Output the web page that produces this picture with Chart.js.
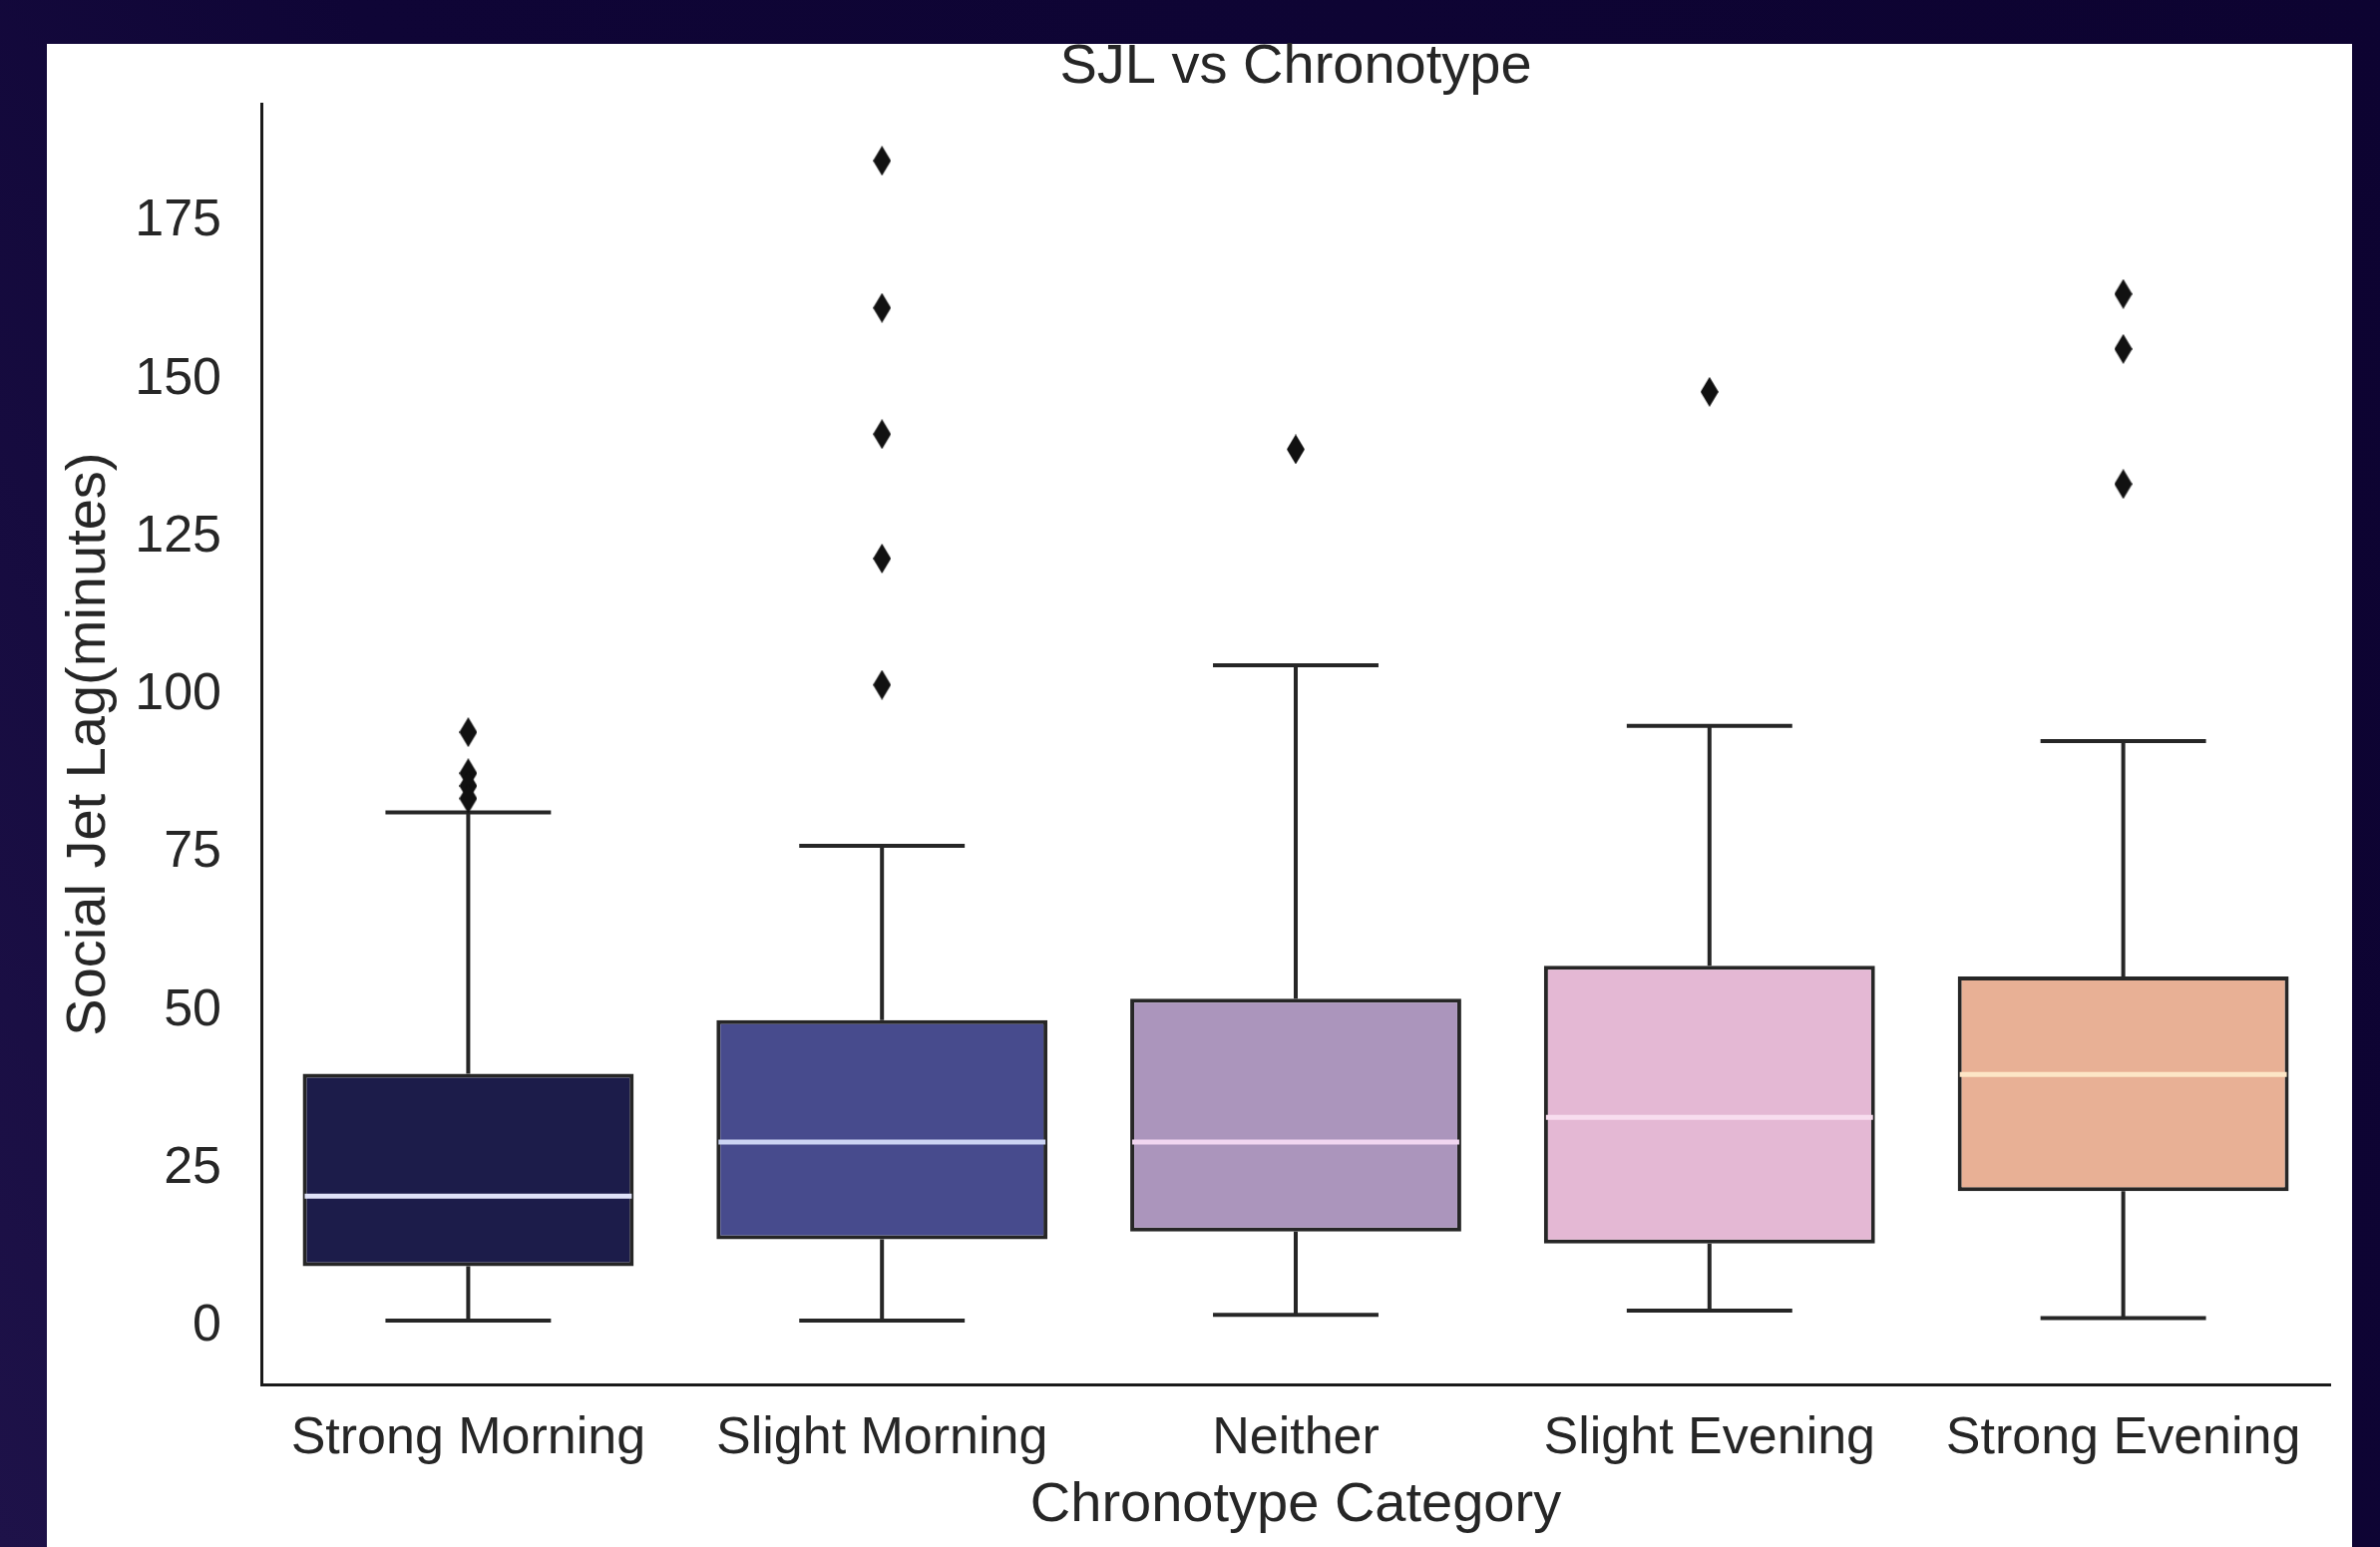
<!DOCTYPE html>
<html>
<head>
<meta charset="utf-8">
<title>SJL vs Chronotype</title>
<script src="https://cdn.jsdelivr.net/npm/chart.js@4.4.1/dist/chart.umd.min.js"></script>
<style>
  html, body { margin: 0; padding: 0; background: #0e0433; overflow: hidden; }
  #grafico { display: block; }
</style>
</head>
<body>
<canvas id="grafico" width="2386" height="1551"></canvas>
<script>
// dados (minutos)
const categorias = ["Strong Morning", "Slight Morning", "Neither", "Slight Evening", "Strong Evening"]
const bigodeInferior = [0.9, 0.9, 1.8, 2.5, 1.3]
const quartil1 = [9.5, 13.8, 15.0, 13.1, 21.4]
const mediana = [20.6, 29.2, 29.2, 33.1, 39.9]
const quartil3 = [40.0, 48.5, 51.9, 57.1, 55.4]
const bigodeSuperior = [81.4, 76.1, 104.7, 95.1, 92.7]
const outliers = [
  [94.1, 87.6, 85.6, 83.6],
  [101.6, 121.6, 141.3, 161.3, 184.6],
  [138.9],
  [148.0],
  [163.5, 154.8, 133.4],
]
const ticksY = [0, 25, 50, 75, 100, 125, 150, 175]
const limiteY = [-9.2, 193.6]

const coresCaixa = ["#1c1c4a", "#474b8d", "#ab95bc", "#e4b8d4", "#e8b095"]
const coresMediana = ["#dfe2f8", "#cbd4f3", "#f1d6f0", "#f8ddef", "#fde6c6"]
const corLinha = "#262626"
const fonte = "'Liberation Sans', Arial, Helvetica, sans-serif"

// pontos dos outliers no formato {x, y}
const pontosOutliers = []
outliers.forEach((lista, i) => {
  lista.forEach((v) => pontosOutliers.push({ x: categorias[i], y: v }))
})

// marcador "thin diamond" do matplotlib
function criarDiamante() {
  const c = document.createElement("canvas")
  c.width = 18
  c.height = 30
  const g = c.getContext("2d")
  g.fillStyle = "#111111"
  g.beginPath()
  g.moveTo(9, 0)
  g.lineTo(18, 15)
  g.lineTo(9, 30)
  g.lineTo(0, 15)
  g.closePath()
  g.fill()
  return c
}

const fundo = {
  id: "fundo",
  beforeDraw(chart) {
    const ctx = chart.ctx
    const w = chart.width
    const h = chart.height
    ctx.save()
    const grad = ctx.createLinearGradient(w, 0, 0, h)
    grad.addColorStop(0, "#0d0331")
    grad.addColorStop(0.6, "#0f0536")
    grad.addColorStop(1, "#1e1249")
    ctx.fillStyle = grad
    ctx.fillRect(0, 0, w, h)
    ctx.fillStyle = "#ffffff"
    ctx.fillRect(47, 44, 2311, h - 44)
    ctx.restore()
  },
}

const linhasBoxplot = {
  id: "linhasBoxplot",
  beforeDatasetsDraw(chart) {
    const { ctx, scales } = chart
    const x = scales.x
    const y = scales.y
    const meta = chart.getDatasetMeta(0)
    ctx.save()
    ctx.strokeStyle = corLinha
    ctx.lineWidth = 4
    categorias.forEach((c, i) => {
      const cx = x.getPixelForValue(i)
      const meia = meta.data[i].width / 4
      const yLo = y.getPixelForValue(bigodeInferior[i])
      const yQ1 = y.getPixelForValue(quartil1[i])
      const yQ3 = y.getPixelForValue(quartil3[i])
      const yHi = y.getPixelForValue(bigodeSuperior[i])
      ctx.beginPath()
      ctx.moveTo(cx, yQ1)
      ctx.lineTo(cx, yLo)
      ctx.moveTo(cx, yQ3)
      ctx.lineTo(cx, yHi)
      ctx.moveTo(cx - meia, yLo)
      ctx.lineTo(cx + meia, yLo)
      ctx.moveTo(cx - meia, yHi)
      ctx.lineTo(cx + meia, yHi)
      ctx.stroke()
    })
    ctx.restore()
  },
  afterDatasetsDraw(chart) {
    const { ctx, scales } = chart
    const y = scales.y
    const meta = chart.getDatasetMeta(0)
    ctx.save()
    ctx.lineWidth = 5
    categorias.forEach((c, i) => {
      const barra = meta.data[i]
      const ym = y.getPixelForValue(mediana[i])
      ctx.strokeStyle = coresMediana[i]
      ctx.beginPath()
      ctx.moveTo(barra.x - barra.width / 2 + 2, ym)
      ctx.lineTo(barra.x + barra.width / 2 - 2, ym)
      ctx.stroke()
    })
    ctx.restore()
  },
}

const ctx = document.getElementById("grafico").getContext("2d")
new Chart(ctx, {
  type: "bar",
  data: {
    labels: categorias,
    datasets: [
      {
        label: "caixas",
        data: categorias.map((c, i) => [quartil1[i], quartil3[i]]),
        backgroundColor: coresCaixa,
        borderColor: corLinha,
        borderWidth: 4,
        borderSkipped: false,
        categoryPercentage: 1,
        barPercentage: 0.8,
        order: 2,
      },
      {
        type: "line",
        label: "outliers",
        data: pontosOutliers,
        showLine: false,
        pointStyle: criarDiamante(),
        pointRadius: 9,
        order: 1,
      },
    ],
  },
  options: {
    responsive: false,
    animation: false,
    events: [],
    layout: {
      padding: { left: 0, right: 50, top: 0, bottom: 0 },
    },
    plugins: {
      legend: { display: false },
      tooltip: { enabled: false },
      title: {
        display: true,
        fullSize: false,
        text: "SJL vs Chronotype",
        color: "#262626",
        font: { family: fonte, size: 56, weight: "normal" },
        padding: { top: 34, bottom: 3 },
      },
    },
    scales: {
      x: {
        offset: true,
        grid: { display: false, drawTicks: false },
        border: { display: true, color: "#1a1a1a", width: 3 },
        ticks: {
          color: "#262626",
          font: { family: fonte, size: 52 },
          padding: 23,
          maxRotation: 0,
          autoSkip: false,
        },
        title: {
          display: true,
          text: "Chronotype Category",
          color: "#262626",
          font: { family: fonte, size: 56 },
          padding: { top: 0, bottom: 8 },
        },
        afterFit(scale) {
          scale.height = 163
        },
      },
      y: {
        min: limiteY[0],
        max: limiteY[1],
        grid: { display: false, drawTicks: false },
        border: { display: true, color: "#1a1a1a", width: 3 },
        ticks: {
          color: "#262626",
          font: { family: fonte, size: 52 },
          padding: 40,
          includeBounds: false,
        },
        afterBuildTicks(scale) {
          scale.ticks = ticksY.map((v) => ({ value: v }))
        },
        title: {
          display: true,
          text: "Social Jet Lag(minutes)",
          color: "#262626",
          font: { family: fonte, size: 56 },
          padding: { top: 56, bottom: 0 },
        },
        afterFit(scale) {
          scale.width = 262
        },
      },
    },
  },
  plugins: [fundo, linhasBoxplot],
})
</script>
</body>
</html>
